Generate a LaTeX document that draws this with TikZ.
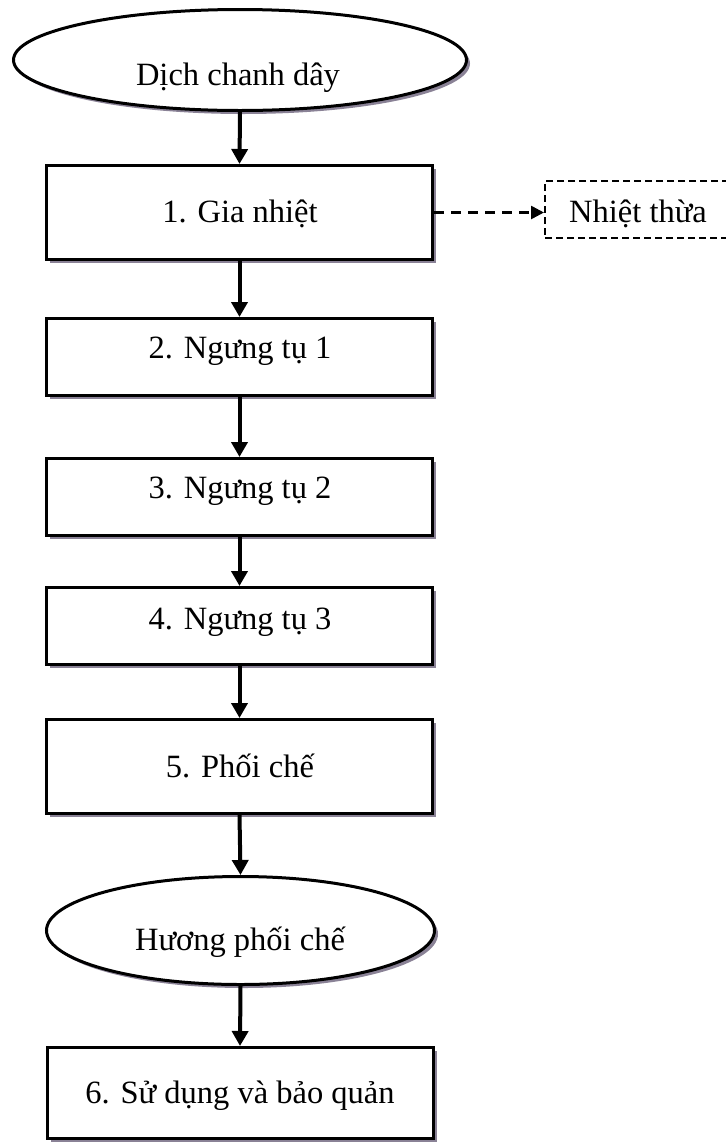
\documentclass[tikz,border=0pt]{standalone}
\usepackage{fontspec}
\setmainfont{Liberation Serif}
\usetikzlibrary{shapes.geometric,arrows.meta,shadows}
\definecolor{shadowc}{RGB}{138,130,150}
\begin{document}
\begin{tikzpicture}[x=1pt,y=-1pt,
  shade3/.style={drop shadow={shadow xshift=3.5pt,shadow yshift=-3.5pt,fill=shadowc,opacity=1}},
  stepbox/.style={draw, line width=3pt, fill=white, rectangle, inner sep=0pt,
    minimum width=386pt, shade3},
  oval/.style={draw, line width=3pt, fill=white, ellipse, inner sep=0pt, shade3},
  lbl/.style={anchor=base, inner sep=0pt, font=\fontsize{32.5}{38}\selectfont},
  flow/.style={line width=4pt, -{Triangle[width=16pt,length=15pt]}},
  lossflow/.style={line width=2.6pt, dash pattern=on 10pt off 7pt,
    -{Triangle[width=13pt,length=13pt]}},
  lossbox/.style={draw, line width=2pt, dash pattern=on 7pt off 4pt, fill=white,
    rectangle, inner sep=0pt}]
\useasboundingbox (0,0) rectangle (726,1144);

% process shapes
\node[oval, minimum width=453pt, minimum height=101pt] (src) at (240,60) {};
\node[stepbox, minimum height=94pt] (b1) at (239.5,212.5) {};
\node[stepbox, minimum height=77pt] (b2) at (239.5,357) {};
\node[stepbox, minimum height=77pt] (b3) at (239.5,497) {};
\node[stepbox, minimum height=77pt] (b4) at (239.5,626) {};
\node[stepbox, minimum height=94pt] (b5) at (239.5,766.5) {};
\node[oval, minimum width=388pt, minimum height=108pt] (mix) at (240.5,930.5) {};
\node[stepbox, minimum height=91pt] (b6) at (240,1093) {};
\node[lossbox, minimum width=190pt, minimum height=57pt] (waste) at (640,209.5) {};

% labels
\node[lbl] (t0) at (238,85) {Dịch chanh dây};
\node[lbl] (t1) at (240,222) {1. Gia nhiệt};
\node[lbl] (t2) at (240,358) {2. Ngưng tụ 1};
\node[lbl] (t3) at (240,498) {3. Ngưng tụ 2};
\node[lbl] (t4) at (240,629) {4. Ngưng tụ 3};
\node[lbl] (t5) at (240,777) {5. Phối chế};
\node[lbl] (t6) at (240,950) {Hương phối chế};
\node[lbl] (t7) at (240,1103) {6. Sử dụng và bảo quản};
\node[lbl] (t8) at (638,222) {Nhiệt thừa};

% connectors
\draw[flow] (src.south) -- (b1.north);
\draw[flow] (b1.south) -- (b2.north);
\draw[flow] (b2.south) -- (b3.north);
\draw[flow] (b3.south) -- (b4.north);
\draw[flow] (b4.south) -- (b5.north);
\draw[flow] (b5.south) -- (mix.north);
\draw[flow] (mix.south) -- (b6.north);
\draw[lossflow] (b1.east) -- (b1.east -| waste.west);
\end{tikzpicture}
\end{document}
